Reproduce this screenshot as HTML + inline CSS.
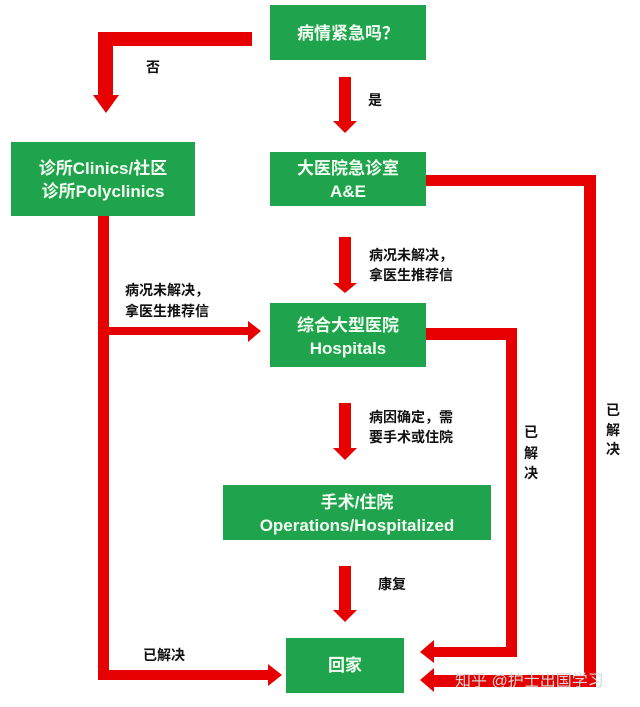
<!DOCTYPE html>
<html><head><meta charset="utf-8"><style>
html,body{margin:0;padding:0;background:#fff;}
svg{display:block;}
.b{fill:#1fa34d;}
.t{fill:#f2fff2;font-family:"Liberation Sans","Noto Sans CJK SC",sans-serif;font-weight:bold;font-size:17px;text-anchor:middle;}
.l{fill:#111;font-family:"Liberation Sans","Noto Sans CJK SC",sans-serif;font-size:14px;font-weight:bold;}
.r{fill:#e60000;}
</style></head><body>
<svg width="640" height="707" viewBox="0 0 640 707" xmlns="http://www.w3.org/2000/svg">
<!-- boxes -->
<rect class="b" x="270" y="5" width="156" height="55"/>
<text class="t" x="348" y="39">病情紧急吗？</text>
<rect class="b" x="11" y="142" width="184" height="74"/>
<text class="t" x="103" y="174">诊所Clinics/社区</text>
<text class="t" x="103" y="197">诊所Polyclinics</text>
<rect class="b" x="270" y="152" width="156" height="54"/>
<text class="t" x="348" y="174">大医院急诊室</text>
<text class="t" x="348" y="197">A&amp;E</text>
<rect class="b" x="270" y="303" width="156" height="64"/>
<text class="t" x="348" y="331">综合大型医院</text>
<text class="t" x="348" y="354">Hospitals</text>
<rect class="b" x="223" y="485" width="268" height="55"/>
<text class="t" x="357" y="508">手术/住院</text>
<text class="t" x="357" y="531">Operations/Hospitalized</text>
<rect class="b" x="286" y="638" width="118" height="55"/>
<text class="t" x="345" y="671">回家</text>

<!-- top-left L arrow -->
<rect class="r" x="98" y="32" width="154" height="14"/>
<rect class="r" x="98" y="32" width="15" height="64"/>
<polygon class="r" points="93,95 119,95 106,113"/>
<!-- 是 arrow -->
<rect class="r" x="339" y="77" width="12" height="45"/>
<polygon class="r" points="333,121 357,121 345,133"/>
<!-- A&E -> hospitals -->
<rect class="r" x="339" y="237" width="12" height="47"/>
<polygon class="r" points="333,283 357,283 345,293"/>
<!-- hospitals -> surgery -->
<rect class="r" x="339" y="403" width="12" height="46"/>
<polygon class="r" points="333,448 357,448 345,460"/>
<!-- surgery -> home -->
<rect class="r" x="339" y="566" width="12" height="45"/>
<polygon class="r" points="333,610 357,610 345,622"/>

<!-- clinics left line -->
<rect class="r" x="98" y="216" width="11" height="464"/>
<rect class="r" x="98" y="670" width="172" height="10"/>
<polygon class="r" points="268,664 268,686 282,675"/>
<rect class="r" x="109" y="327" width="141" height="8"/>
<polygon class="r" points="248,321 248,342 261,331"/>

<!-- A&E right line -->
<rect class="r" x="426" y="175" width="170" height="11"/>
<rect class="r" x="584" y="175" width="12" height="512"/>
<rect class="r" x="432" y="675" width="164" height="12"/>
<polygon class="r" points="434,668 434,692 420,680"/>

<!-- hospitals right line -->
<rect class="r" x="426" y="328" width="91" height="12"/>
<rect class="r" x="506" y="328" width="11" height="329"/>
<rect class="r" x="432" y="647" width="85" height="10"/>
<polygon class="r" points="434,640 434,663 420,652"/>

<!-- labels -->
<text class="l" x="146" y="72">否</text>
<text class="l" x="368" y="105">是</text>
<text class="l" x="369" y="260">病况未解决，</text>
<text class="l" x="369" y="280">拿医生推荐信</text>
<text class="l" x="125" y="295">病况未解决，</text>
<text class="l" x="125" y="316">拿医生推荐信</text>
<text class="l" x="369" y="422">病因确定，需</text>
<text class="l" x="369" y="442">要手术或住院</text>
<text class="l" x="378" y="589">康复</text>
<text class="l" x="143" y="660">已解决</text>
<text class="l" x="524" y="437">已</text>
<text class="l" x="524" y="458">解</text>
<text class="l" x="524" y="478">决</text>
<text class="l" x="606" y="415">已</text>
<text class="l" x="606" y="435">解</text>
<text class="l" x="606" y="454">决</text>
<text x="455" y="686" style="fill:#d8d8d8;font-family:'Liberation Sans','Noto Sans CJK SC',sans-serif;font-size:16px;">知乎 @护士出国学习</text>
</svg>
</body></html>
